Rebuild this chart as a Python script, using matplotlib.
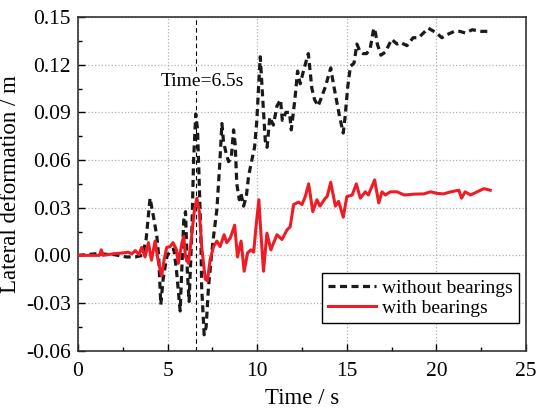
import matplotlib
matplotlib.use('Agg')
import matplotlib.pyplot as plt
import numpy as np
from matplotlib.ticker import MultipleLocator, FormatStrFormatter

plt.rcParams['font.family'] = ['Liberation Serif', 'DejaVu Serif']
plt.rcParams['axes.unicode_minus'] = False

''' without bearings (read off the picture)'''
t_wo = [0, 1, 2, 2.7, 3.2, 3.6, 3.8, 4.02, 4.2, 4.4,
        4.5, 4.62, 4.75, 4.95, 5.15, 5.35, 5.5, 5.7, 5.9, 6.0,
        6.1, 6.2, 6.35, 6.45, 6.57, 6.67, 6.76, 6.85, 6.9, 7.04,
        7.15, 7.28, 7.52, 7.75, 7.9, 8.03, 8.12, 8.27, 8.4, 8.55,
        8.68, 8.77, 8.86, 9.0, 9.09, 9.24, 9.39, 9.52, 9.7, 9.85,
        9.98, 10.07, 10.17, 10.3, 10.45, 10.55, 10.7, 10.9, 11.1, 11.3,
        11.4, 11.6, 11.8, 11.9, 12.1, 12.25, 12.4, 12.6, 12.85, 13.05,
        13.2, 13.4, 13.6, 13.8, 14.1, 14.25, 14.45, 14.6, 14.8, 14.9,
        15.05, 15.2, 15.4, 15.56, 15.75, 15.9, 16.1, 16.3, 16.5, 16.6,
        16.7, 16.9, 17.15, 17.5, 17.8, 18.0, 18.35, 18.7, 19.0, 19.55,
        20.0, 20.3, 20.6, 21.0, 21.3, 21.6, 22.0, 22.5, 23.0]
d_wo = [0, 0.001, 0.0005, -0.001, -0.001, 0.0, 0.01, 0.036, 0.025, 0.012,
        0.0, -0.031, -0.015, -0.001, 0.003, 0.004, -0.01, -0.035, 0.022, 0.0275,
        -0.01, -0.029, 0.014, 0.06, 0.089, 0.079, 0.0475, 0.014, -0.02, -0.05,
        -0.045, -0.02, 0.008, 0.029, 0.056, 0.083, 0.0715, 0.064, 0.059, 0.061,
        0.079, 0.07, 0.045, 0.035, 0.039, 0.031, 0.037, 0.05, 0.06, 0.068,
        0.085, 0.105, 0.125, 0.1, 0.072, 0.068, 0.087, 0.082, 0.094, 0.098,
        0.085, 0.09, 0.09, 0.079, 0.098, 0.116, 0.108, 0.117, 0.127, 0.105,
        0.098, 0.094, 0.1, 0.106, 0.118, 0.108, 0.096, 0.087, 0.077, 0.087,
        0.106, 0.119, 0.121, 0.133, 0.128, 0.127, 0.127, 0.13, 0.143, 0.14,
        0.133, 0.126, 0.128, 0.136, 0.133, 0.134, 0.132, 0.137, 0.137, 0.143,
        0.14, 0.137, 0.139, 0.141, 0.141, 0.14, 0.142, 0.141, 0.141]

''' with bearings'''
t_w = [0, 1.2, 1.3, 1.4, 2.0, 2.5, 2.8, 3.0, 3.2, 3.4,
       3.55, 3.74, 3.93, 4.1, 4.3, 4.48, 4.67, 4.8, 4.95, 5.14,
       5.3, 5.5, 5.6, 5.8, 5.9, 6.0, 6.16, 6.3, 6.5, 6.63,
       6.78, 6.9, 7.1, 7.22, 7.37, 7.56, 7.75, 7.93, 8.15, 8.3,
       8.5, 8.74, 8.9, 9.1, 9.27, 9.46, 9.65, 9.8, 9.95, 10.09,
       10.2, 10.35, 10.54, 10.76, 11.1, 11.38, 11.66, 11.84, 12.03, 12.3,
       12.5, 12.68, 12.87, 13.1, 13.33, 13.5, 13.8, 13.9, 14.1, 14.36,
       14.54, 14.8, 15.0, 15.3, 15.53, 15.75, 16.03, 16.2, 16.55, 16.78,
       16.96, 17.15, 17.43, 17.8, 18.2, 18.73, 19.3, 19.67, 20.04, 20.4,
       20.8, 21.25, 21.4, 21.6, 21.9, 22.27, 22.64, 23.0]
d_w = [0, 0.0, 0.0035, 0.0, 0.001, 0.0015, 0.002, 0.001, 0.003, 0.0005,
       0.005, -0.001, 0.008, -0.003, 0.009, -0.004, -0.013, -0.003, 0.005, 0.0055,
       0.008, 0.0035, -0.005, 0.008, 0.012, -0.001, -0.005, 0.008, 0.029, 0.036,
       0.027, 0.0055, -0.015, -0.016, -0.003, 0.0055, 0.009, 0.0055, 0.013, 0.008,
       0.011, 0.019, -0.001, 0.009, -0.01, 0.0015, 0.0035, 0.002, 0.02, 0.035,
       0.015, -0.01, 0.014, 0.0035, 0.013, 0.01, 0.016, 0.018, 0.032, 0.0335,
       0.032, 0.037, 0.045, 0.0275, 0.035, 0.031, 0.036, 0.037, 0.046, 0.031,
       0.034, 0.024, 0.037, 0.038, 0.045, 0.036, 0.04, 0.038, 0.0475, 0.033,
       0.04, 0.038, 0.04, 0.04, 0.038, 0.0385, 0.0387, 0.04, 0.039, 0.0387,
       0.04, 0.041, 0.036, 0.04, 0.038, 0.04, 0.042, 0.041]

t_mark = 6.6

fig = plt.figure(figsize=(5.36, 4.16), dpi=100)
ax = fig.add_axes([0.1455, 0.157, 0.836, 0.802])

ax.plot(t_wo, d_wo, color='#1a1a1a', ls=(0, (2.2, 1.4)), lw=2.3,
        label='without bearings', zorder=3)
ax.plot(t_w, d_w, color='#ee1c25', ls='-', lw=2.2,
        label='with bearings', zorder=4)

ax.axvline(t_mark, color='k', ls=(0, (4, 3)), lw=0.8, zorder=2)
ax.text(6.94, 0.1095, 'Time=6.5s', ha='center', va='center', fontsize=14,
        bbox=dict(facecolor='white', edgecolor='none', pad=1), zorder=5)

ax.set_xlim(0, 25)
ax.set_ylim(-0.06, 0.15)
ax.xaxis.set_major_locator(MultipleLocator(5))
ax.xaxis.set_minor_locator(MultipleLocator(2.5))
ax.yaxis.set_major_locator(MultipleLocator(0.03))
ax.yaxis.set_minor_locator(MultipleLocator(0.015))
ax.yaxis.set_major_formatter(FormatStrFormatter('%.2f'))

ax.grid(True, which='major', color='#b0b0b0', ls=':', lw=0.9, zorder=0)
ax.tick_params(which='both', direction='in', top=False, right=False,
               labelsize=15.5, width=1)
ax.tick_params(axis='x', pad=8)
ax.tick_params(axis='y', pad=5)
ax.tick_params(which='major', length=5)
ax.tick_params(which='minor', length=3)
for s in ax.spines.values():
    s.set_linewidth(1.2)
    s.set_color('#333333')

ax.set_xlabel('Time / s', fontsize=16.5, labelpad=5)
ax.set_ylabel('Lateral deformation / m', fontsize=16.5, labelpad=4)

leg = ax.legend(loc='lower right', bbox_to_anchor=(0.984, 0.083), fontsize=14,
                fancybox=False, edgecolor='black', framealpha=1,
                handlelength=2.5, handletextpad=0.3, borderpad=0.3,
                labelspacing=0.15, borderaxespad=0)
leg.get_frame().set_linewidth(1.0)

fig.savefig('out.png', dpi=100)
